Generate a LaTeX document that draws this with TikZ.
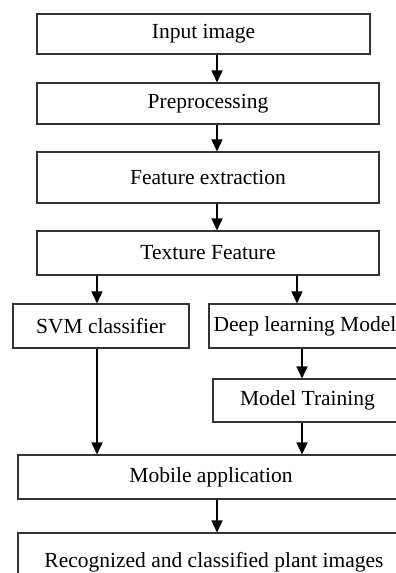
\documentclass[tikz,border=0pt]{standalone}
\usepackage{fontspec}
\setmainfont{Liberation Serif}
\usetikzlibrary{arrows.meta}
\tikzset{
  box/.style={draw=black!80, line width=1.1pt, inner sep=0pt, font=\fontsize{21.5}{24}\selectfont},
  flow/.style={line width=1.6pt, -{Triangle[width=11pt,length=12pt]}}
}
\begin{document}
\begin{tikzpicture}[x=1pt,y=-1pt]
        \useasboundingbox (0,0) rectangle (396,573);
        \clip (0,0) rectangle (396,573);
        \node[box, minimum width=333pt, minimum height=40pt] (input) at (203.5,34) {Input image};
        \node[box, minimum width=342pt, minimum height=41pt] (prep) at (208,103.5) {Preprocessing};
        \node[box, minimum width=342pt, minimum height=51pt] (feat) at (208,177.5) {Feature extraction};
        \node[box, minimum width=342pt, minimum height=44pt] (texture) at (208,253) {Texture Feature};
        \node[box, minimum width=176pt, minimum height=44pt] (svm) at (101,326) {SVM classifier};
        \node[box, minimum width=192pt, minimum height=44pt] (deep) at (305,326) {Deep learning Model};
        \node[box, minimum width=189pt, minimum height=43pt] (train) at (307.5,400.5) {Model Training};
        \node[box, minimum width=386pt, minimum height=44pt] (mobile) at (211,477) {Mobile application};
        \node[box, minimum width=392pt, minimum height=58pt] (result) at (214,562) {Recognized and classified plant images};
        \draw[flow] ([xshift=13.5pt]input.south) -- ([xshift=9pt]prep.north);
        \draw[flow] ([xshift=9pt]prep.south) -- ([xshift=9pt]feat.north);
        \draw[flow] ([xshift=9pt]feat.south) -- ([xshift=9pt]texture.north);
        \draw[flow] ([xshift=-111pt]texture.south) -- ([xshift=-4pt]svm.north);
        \draw[flow] ([xshift=89pt]texture.south) -- ([xshift=-8pt]deep.north);
        \draw[flow] ([xshift=-3pt]deep.south) -- ([xshift=-5.5pt]train.north);
        \draw[flow] ([xshift=-4pt]svm.south) -- ([xshift=-114pt]mobile.north);
        \draw[flow] ([xshift=-5.5pt]train.south) -- ([xshift=91pt]mobile.north);
        \draw[flow] ([xshift=6pt]mobile.south) -- ([xshift=3pt]result.north);
      \end{tikzpicture}
\end{document}
